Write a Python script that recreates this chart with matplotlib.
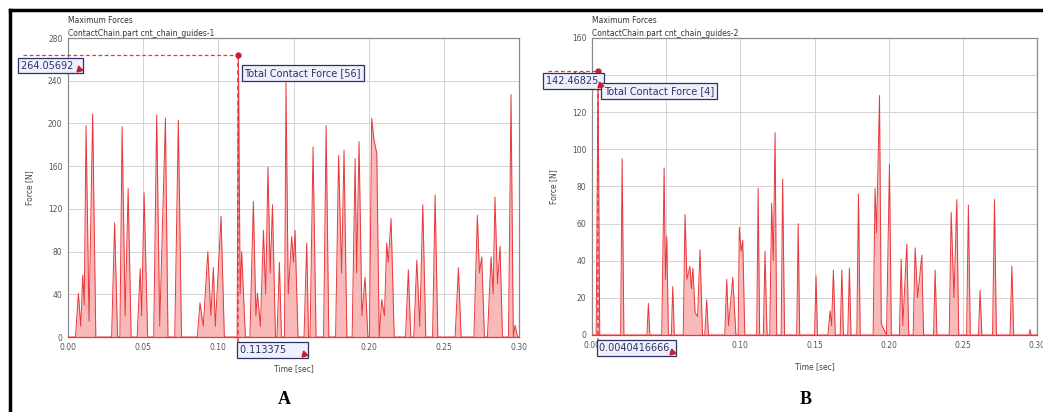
import matplotlib
matplotlib.use("Agg")
import matplotlib.pyplot as plt
from matplotlib.lines import Line2D
from matplotlib.transforms import IdentityTransform

# panel A: total contact force on guide 1 (time [s], force [N])
time_a = [0.000, 0.005, 0.0069, 0.0085, 0.0098, 0.0108, 0.012, 0.014, 0.0164, 0.0185,
          0.029, 0.031, 0.033, 0.0345, 0.036, 0.038, 0.040, 0.042,
          0.046, 0.048, 0.049, 0.0506, 0.053,
          0.057, 0.059, 0.061, 0.0648, 0.0665,
          0.071, 0.0734, 0.0755,
          0.086, 0.0878, 0.090, 0.093, 0.095, 0.0967, 0.098, 0.1018, 0.104,
          0.1125, 0.113375, 0.1145, 0.1155, 0.118,
          0.121, 0.1233, 0.125, 0.126, 0.128, 0.130, 0.1315, 0.133, 0.1345, 0.136, 0.138,
          0.139, 0.1406, 0.142, 0.144, 0.145, 0.1465, 0.1488, 0.150, 0.151, 0.153,
          0.157, 0.1588, 0.160, 0.161, 0.163, 0.165,
          0.170, 0.1717, 0.1735,
          0.178, 0.180, 0.182, 0.1836, 0.1855,
          0.189, 0.191, 0.192, 0.1936, 0.1955, 0.1976, 0.1995,
          0.2005, 0.202, 0.2035, 0.2054, 0.207, 0.2087, 0.2105, 0.212, 0.213, 0.2149, 0.217,
          0.2245, 0.2264, 0.228, 0.230, 0.232, 0.234, 0.236, 0.238,
          0.2425, 0.2442, 0.246,
          0.2575, 0.2597, 0.2615,
          0.270, 0.2723, 0.2737, 0.2752, 0.277,
          0.279, 0.2814, 0.2828, 0.284, 0.2857, 0.2874, 0.289,
          0.293, 0.2947, 0.2962, 0.2974, 0.299, 0.300]
force_a = [0, 0, 41, 10, 58, 30, 198, 15, 209, 0,
           0, 107, 0, 0, 197, 20, 139, 0,
           0, 64, 20, 135, 0,
           0, 208, 10, 205, 0,
           0, 203, 0,
           0, 32, 10, 80, 20, 65, 10, 113, 0,
           0, 264.05692, 40, 80, 0,
           0, 127, 20, 41, 10, 100, 40, 159, 60, 124, 0,
           0, 70, 0, 0, 238, 40, 94, 70, 100, 0,
           0, 88, 0, 0, 178, 0,
           0, 198, 0,
           0, 170, 60, 175, 0,
           0, 167, 60, 183, 20, 56, 0,
           0, 205, 185, 172, 0, 35, 20, 88, 70, 111, 0,
           0, 63, 0, 0, 72, 10, 124, 0,
           0, 133, 0,
           0, 65, 0,
           0, 114, 60, 75, 0,
           0, 75, 40, 131, 50, 85, 0,
           0, 227, 0, 11, 0, 0]

# panel B: total contact force on guide 2
time_b = [0.000, 0.0028, 0.0040416666, 0.0052,
          0.0193, 0.0203, 0.0215,
          0.037, 0.038, 0.039,
          0.047, 0.0486, 0.0495, 0.0504, 0.0515, 0.0535, 0.0544, 0.0555,
          0.0615, 0.0627, 0.064, 0.066, 0.067, 0.068, 0.0695, 0.0712, 0.0728, 0.0745, 0.076, 0.0773, 0.0785,
          0.0895, 0.0908, 0.092, 0.0949, 0.097, 0.0985, 0.0993, 0.1005, 0.1016, 0.103,
          0.111, 0.112, 0.113, 0.1155, 0.1166, 0.118, 0.1198, 0.1211, 0.1222, 0.1234, 0.1245,
          0.1275, 0.1285, 0.1298,
          0.138, 0.139, 0.140,
          0.150, 0.151, 0.152,
          0.159, 0.1605, 0.1615, 0.1627, 0.164, 0.1673, 0.1684, 0.1695, 0.1724, 0.1735, 0.1746,
          0.1785, 0.1796, 0.1808,
          0.1895, 0.1908, 0.1918, 0.1938, 0.195, 0.1985, 0.2005, 0.2018,
          0.2072, 0.2084, 0.2095, 0.2122, 0.2135, 0.2165, 0.2178, 0.2195, 0.2223, 0.2235,
          0.2302, 0.2313, 0.2325,
          0.2408, 0.2421, 0.244, 0.2459, 0.2472, 0.2525, 0.2537, 0.255,
          0.2605, 0.2616, 0.2628, 0.270, 0.2713, 0.2726,
          0.2818, 0.283, 0.2843, 0.2945, 0.2953, 0.296, 0.300]
force_b = [0, 0, 142.46825, 0,
           0, 95, 0,
           0, 17, 0,
           0, 90, 30, 53, 0, 0, 26, 0,
           0, 65, 30, 37, 25, 36, 12, 10, 46, 0, 0, 19, 0,
           0, 30, 5, 31, 0, 0, 58, 45, 51, 0,
           0, 79, 0, 0, 45, 0, 0, 71, 40, 109, 0,
           0, 84, 0,
           0, 60, 0,
           0, 32, 0,
           0, 13, 5, 35, 0, 0, 35, 0, 0, 36, 0,
           0, 76, 0,
           0, 79, 55, 129, 6, 0, 92, 0,
           0, 41, 5, 49, 0, 0, 47, 20, 43, 0,
           0, 35, 0,
           0, 66, 20, 73, 0, 0, 70, 0,
           0, 24, 0, 0, 73, 0,
           0, 37, 0, 0, 3, 0, 0]

panels = [
    dict(t=time_a, f=force_a, ymax=280, ystep=40, sub="ContactChain.part cnt_chain_guides-1",
         peak_t=0.113375, peak_f=264.05692, vlabel="264.05692  ", tlabel="0.113375      ",
         legend="Total Contact Force [56]", letter="A", leg_dy=0.06,
         pos=[0.0652, 0.182, 0.4324, 0.7257]),
    dict(t=time_b, f=force_b, ymax=160, ystep=20, sub="ContactChain.part cnt_chain_guides-2",
         peak_t=0.0040416666, peak_f=142.46825, vlabel="142.46825 ", tlabel="0.0040416666 ",
         legend="Total Contact Force [4]", letter="B", leg_dy=0.07,
         pos=[0.5676, 0.1869, 0.4267, 0.7209]),
]

red = "#e8383c"
navy = "#2e3266"
box = dict(boxstyle="square,pad=0.3", fc="#eef0fb", ec=navy, lw=0.9)

fig = plt.figure(figsize=(10.43, 4.12), dpi=100)
value_boxes = []

for p in panels:
    ax = fig.add_axes(p["pos"])
    ax.fill_between(p["t"], p["f"], 0, color="#f9b9b9", lw=0, zorder=2)
    ax.plot(p["t"], p["f"], color=red, lw=0.7, zorder=3)
    ax.set_xlim(0, 0.30)
    ax.set_ylim(0, p["ymax"])
    ax.set_xticks([0, 0.05, 0.10, 0.15, 0.20, 0.25, 0.30])
    ax.set_xticklabels(["0.00", "0.05", "0.10", "0.15", "0.20", "0.25", "0.30"])
    ax.set_yticks(range(0, p["ymax"] + 1, p["ystep"]))
    ax.tick_params(length=0, labelsize=5.5, labelcolor="#555555", pad=4)
    ax.grid(True, color="#d4d4d4", lw=0.7)
    ax.set_axisbelow(True)
    for s in ax.spines.values():
        s.set_color("#8a8a8a")
        s.set_linewidth(0.9)
    ax.spines["bottom"].set_color(red)
    ax.set_xlabel("Time [sec]", fontsize=5.5, color="#444444", labelpad=9)
    ax.set_ylabel("Force [N]", fontsize=5.5, color="#444444", labelpad=10)
    ax.text(0, 1.05, "Maximum Forces", transform=ax.transAxes, fontsize=5.5, color="#333333")
    ax.text(0, 1.008, p["sub"], transform=ax.transAxes, fontsize=5.5, color="#333333")

    # peak crosshair
    ax.plot([-0.03, p["peak_t"]], [p["peak_f"], p["peak_f"]], color=red, lw=0.9, ls=(0, (3, 2)),
            clip_on=False, zorder=4)
    ax.plot([p["peak_t"], p["peak_t"]], [p["peak_f"], -p["ymax"] * 0.03], color=red, lw=1.1,
            ls=(0, (3, 2)), clip_on=False, zorder=4)
    ax.plot(p["peak_t"], p["peak_f"], "o", color="#c81e2a", ms=3.5, zorder=5, clip_on=False)

    v = ax.text(-0.031, p["peak_f"] - p["ymax"] * 0.035, p["vlabel"], fontsize=7, color=navy,
                ha="left", va="center", bbox=box, zorder=6, clip_on=False)
    ax.text(p["peak_t"] + 0.004, p["peak_f"] - p["ymax"] * p["leg_dy"], p["legend"], fontsize=7,
            color=navy, ha="left", va="center", bbox=box, zorder=6)
    h = ax.text(p["peak_t"] + 0.001, -p["ymax"] * 0.043, p["tlabel"], fontsize=7, color=navy,
                ha="left", va="center", bbox=box, zorder=6, clip_on=False)
    value_boxes += [v, h]

    x0, w = p["pos"][0], p["pos"][2]
    fig.text(x0 + w * 0.48, 0.03, p["letter"], fontsize=13, fontweight="bold",
             family="Liberation Serif", ha="center", va="center")

# small red pointer in the lower-right corner of each value box
fig.canvas.draw()
for t in value_boxes:
    bb = t.get_bbox_patch().get_window_extent()
    fig.add_artist(Line2D([bb.x1 - 4], [bb.y0 + 4], marker=(3, 0, 15), ms=5, color="#c81e2a",
                          lw=0, transform=IdentityTransform(), zorder=10))

# black frame around the figure (top and left)
fig.add_artist(Line2D([0.0095, 1.0], [0.975, 0.975], color="black", lw=2.5))
fig.add_artist(Line2D([0.0095, 0.0095], [0.0, 0.975], color="black", lw=2.5))

fig.savefig("out.png", dpi=100)
